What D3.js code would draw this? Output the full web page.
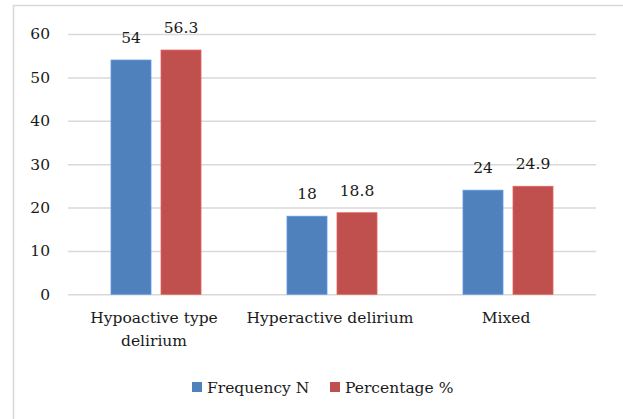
<!DOCTYPE html>
<html><head><meta charset="utf-8">
<script src="https://cdn.jsdelivr.net/npm/d3@7"></script>
<style>body{margin:0;background:#fff}svg{display:block}text{font-family:"DejaVu Serif",serif;fill:#1a1a1a}</style>
</head><body>
<svg id="c" width="623" height="419"></svg>
<script>
const categories = [["Hypoactive type","delirium"],["Hyperactive delirium"],["Mixed"]];
const seriesNames = ["Frequency N","Percentage %"];
const frequency = [54,18,24];
const percentage = [56.3,18.8,24.9];
const valueLabels = [["54","18","24"],["56.3","18.8","24.9"]];
const yTicks = [0,10,20,30,40,50,60];
const colors = ["#4F81BD","#C0504D"];

const svg = d3.select("#c");
const fs = 15.5;
svg.append("line").attr("x1",13).attr("x2",623).attr("y1",5.5).attr("y2",5.5).attr("stroke","#d9d9d9").attr("stroke-width",1.5);
svg.append("line").attr("x1",13.5).attr("x2",13.5).attr("y1",5).attr("y2",419).attr("stroke","#d9d9d9").attr("stroke-width",1.5);

const x = d3.scaleBand().domain(d3.range(categories.length)).range([68,596]);
const y = d3.scaleLinear().domain([0,60]).range([294.3,34]);

const yAxis = d3.axisLeft(y).tickValues(yTicks).tickSize(-(596-68)).tickPadding(18);
const ga = svg.append("g").attr("transform","translate(68,0)").call(yAxis);
ga.select(".domain").remove();
ga.selectAll(".tick line").attr("stroke","#d9d9d9").attr("stroke-width",1.5);
ga.selectAll(".tick text").attr("font-size",fs).attr("fill","#1a1a1a").attr("font-family","DejaVu Serif").attr("x",-18);

const data = [frequency, percentage];
const bw = 40, gap = 10;
data.forEach((vals,si)=>{
  const g = svg.append("g");
  vals.forEach((v,i)=>{
    const cx = x(i)+x.bandwidth()/2;
    const bx = cx - (bw*2+gap)/2 + si*(bw+gap);
    g.append("rect").attr("x",bx).attr("y",y(v)).attr("width",bw).attr("height",y(0)-y(v))
      .attr("fill",colors[si]).attr("stroke",d3.color(colors[si]).brighter(0.5)).attr("stroke-width",0.8);
    g.append("text").attr("x",bx+bw/2).attr("y",y(v)-17).attr("text-anchor","middle").attr("font-size",fs).text(valueLabels[si][i]);
  });
});

categories.forEach((lines,i)=>{
  const cx = x(i)+x.bandwidth()/2 - 2;
  lines.forEach((l,j)=>{
    svg.append("text").attr("x",cx).attr("y",323+j*22.5).attr("text-anchor","middle").attr("font-size",fs).text(l);
  });
});

const lg = svg.append("g");
const lx = [192,330];
seriesNames.forEach((n,i)=>{
  lg.append("rect").attr("x",lx[i]).attr("y",382).attr("width",10).attr("height",10).attr("fill",colors[i]);
  lg.append("text").attr("x",lx[i]+15).attr("y",392.5).attr("font-size",fs).text(n);
});
</script>
</body></html>
